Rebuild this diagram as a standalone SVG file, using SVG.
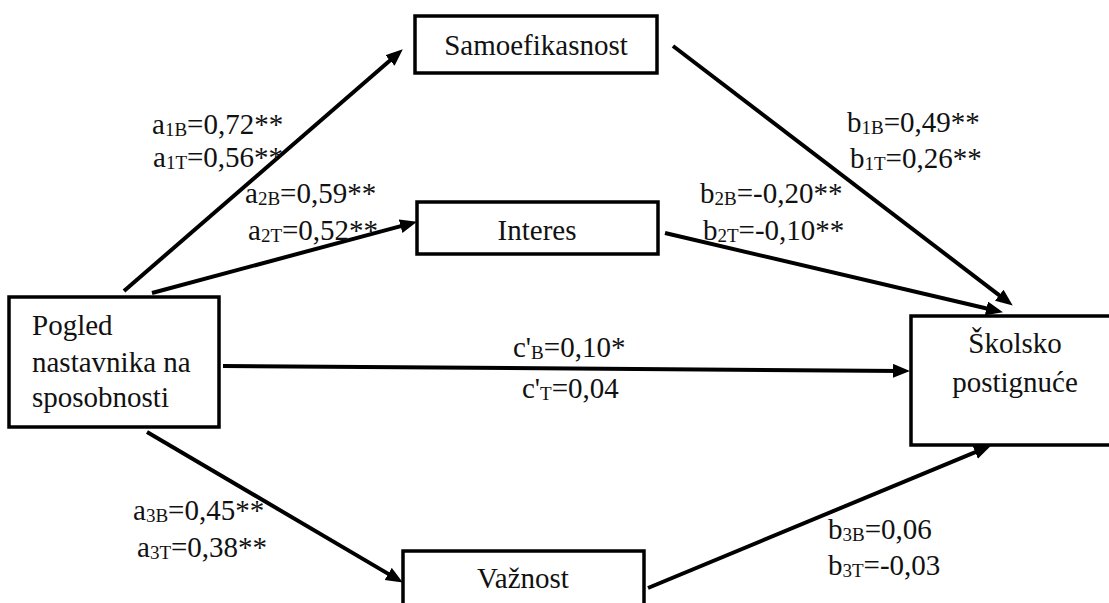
<svg xmlns="http://www.w3.org/2000/svg" width="1109" height="603" viewBox="0 0 1109 603">
<defs>
<style>
text{font-family:"Times New Roman","Liberation Serif",serif}
.box{fill:#fff;stroke:#000;stroke-width:3.5}
.t{font-size:29px;fill:#111}
.c{text-anchor:middle}
.s{font-size:19px}
.e{fill:none;stroke:#000;stroke-width:4}
</style>
<marker id="ah" markerUnits="userSpaceOnUse" markerWidth="17" markerHeight="15" refX="8" refY="7" orient="auto" viewBox="0 0 17 15">
<path d="M0,0 L17,7 L0,14 z" fill="#000"/>
</marker>
</defs>
<rect width="1109" height="603" fill="#fff"/>
<g id="connectors">
<line class="e" x1="124" y1="291" x2="396" y2="55.2" marker-end="url(#ah)"/>
<line class="e" x1="152" y1="293" x2="408.3" y2="224.1" marker-end="url(#ah)"/>
<line class="e" x1="223" y1="366" x2="901" y2="370.9" marker-end="url(#ah)"/>
<line class="e" x1="147" y1="432" x2="395.1" y2="577.9" marker-end="url(#ah)"/>
<line class="e" x1="673" y1="46" x2="1005.6" y2="300.1" marker-end="url(#ah)"/>
<line class="e" x1="665" y1="233" x2="994.2" y2="310.2" marker-end="url(#ah)"/>
<line class="e" x1="648" y1="588" x2="982.6" y2="449.1" marker-end="url(#ah)"/>
</g>
<g id="labels" class="t">
<text x="152" y="134">a<tspan class="s" dy="2">1B</tspan><tspan dy="-2">=0,72**</tspan></text>
<text x="153" y="167">a<tspan class="s" dy="2">1T</tspan><tspan dy="-2">=0,56**</tspan></text>
<text x="245" y="203">a<tspan class="s" dy="2">2B</tspan><tspan dy="-2">=0,59**</tspan></text>
<text x="248" y="240">a<tspan class="s" dy="2">2T</tspan><tspan dy="-2">=0,52**</tspan></text>
<text x="847" y="132">b<tspan class="s" dy="2">1B</tspan><tspan dy="-2">=0,49**</tspan></text>
<text x="850" y="168">b<tspan class="s" dy="2">1T</tspan><tspan dy="-2">=0,26**</tspan></text>
<text x="700" y="203">b<tspan class="s" dy="2">2B</tspan><tspan dy="-2">=-0,20**</tspan></text>
<text x="703" y="240">b<tspan class="s" dy="2">2T</tspan><tspan dy="-2">=-0,10**</tspan></text>
<text x="513" y="357">c'<tspan class="s" dy="2">B</tspan><tspan dy="-2">=0,10*</tspan></text>
<text x="522" y="398">c'<tspan class="s" dy="2">T</tspan><tspan dy="-2">=0,04</tspan></text>
<text x="133" y="520">a<tspan class="s" dy="2">3B</tspan><tspan dy="-2">=0,45**</tspan></text>
<text x="137" y="557">a<tspan class="s" dy="2">3T</tspan><tspan dy="-2">=0,38**</tspan></text>
<text x="828" y="539">b<tspan class="s" dy="2">3B</tspan><tspan dy="-2">=0,06</tspan></text>
<text x="828" y="575">b<tspan class="s" dy="2">3T</tspan><tspan dy="-2">=-0,03</tspan></text>
</g>
<g id="node-samoefikasnost">
<rect class="box" x="415" y="16" width="242" height="57"/>
<text class="t c" x="536" y="55">Samoefikasnost</text>
</g>
<g id="node-interes">
<rect class="box" x="417" y="202" width="241" height="52"/>
<text class="t c" x="537" y="240">Interes</text>
</g>
<g id="node-pogled">
<rect class="box" x="9" y="297" width="210" height="130"/>
<text class="t" x="32" y="335">Pogled</text>
<text class="t" x="32" y="372">nastavnika na</text>
<text class="t" x="32" y="407">sposobnosti</text>
</g>
<g id="node-vaznost">
<rect class="box" x="403" y="551" width="241" height="70"/>
<text class="t c" x="523" y="588">Važnost</text>
</g>
<g id="node-skolsko">
<rect class="box" x="911" y="316" width="210" height="129"/>
<text class="t c" x="1015" y="353">Školsko</text>
<text class="t c" x="1015" y="392">postignuće</text>
</g>
</svg>
